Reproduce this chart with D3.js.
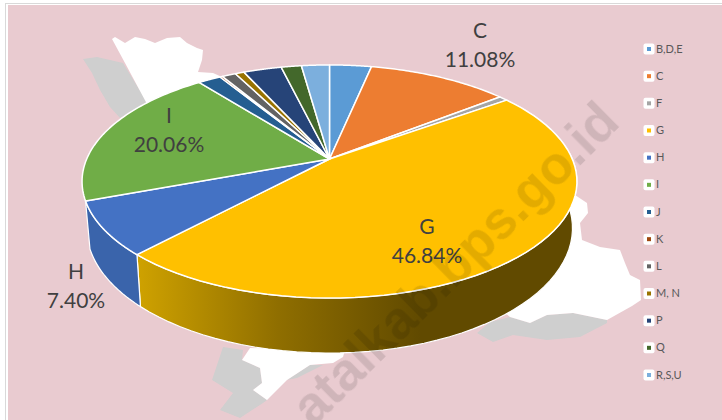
<!DOCTYPE html>
<html><head><meta charset="utf-8">
<style>html,body{margin:0;padding:0;background:#fff}svg{display:block}</style>
<script src="https://cdn.jsdelivr.net/npm/d3@7/dist/d3.min.js"></script>
</head><body><svg id="c" width="722" height="420"></svg>
<script>
const categories=["B,D,E","C","F","G","H","I","J","K","L","M, N","P","Q","R,S,U"];
const shares=[3.3,11.08,0.7,46.84,7.40,20.06,1.82,0.2,1.1,0.7,3.0,1.6,2.2];
const colors=["#5b9bd5","#ed7d31","#a5a5a5","#ffc000","#4472c4","#70ad47","#255e91","#9e480e","#636363","#997300","#264478","#43682b","#7cafdd"];
const labelled=["C","G","H","I"];

const landWhite=[
"M112,39L115,37L125,43L135,37L145,39L155,43L167,38L180,37L187,43L197,48L203,50L202,60L198,72L213,73L222,77L225,100L147,104L125,63Z",
"M570,190L575,195L587,203L588,213L580,223L582,240L600,247L620,250L625,263L630,275L640,280L641,300L632,306L607,320L573,313L547,315L530,323L510,317L490,300Z",
"M242,360L250,348L345,350L343,357L333,363L310,365L287,380L270,397L267,400L253,390L262,383L260,368Z"];
const landGray=[
"M83,59L97,57L110,60L123,63L147,102L120,118L110,107L100,90L92,73Z",
"M477,333L493,342L513,335L547,340L580,337L607,323L607,320L573,313L547,315L530,323L510,317L490,322Z",
"M223,347L243,350L242,360L260,368L262,383L253,390L267,400L263,403L240,418L220,410L233,393L212,380Z",
"M287,380L310,365L323,365L297,378Z"];

const svg=d3.select("#c");
const defs=svg.append("defs");
const g1=defs.append("linearGradient").attr("id","wallG").attr("gradientUnits","userSpaceOnUse").attr("x1",137).attr("x2",420).attr("y1",0).attr("y2",0);
g1.append("stop").attr("offset",0).attr("stop-color","#cfa200");
g1.append("stop").attr("offset",0.5).attr("stop-color","#8f6e00");
g1.append("stop").attr("offset",1).attr("stop-color","#614a00");
defs.append("filter").attr("id","soft").append("feGaussianBlur").attr("stdDeviation",0.7);

svg.append("rect").attr("width",722).attr("height",420).attr("fill","#fff");
svg.append("rect").attr("x",5.5).attr("y",3.5).attr("width",720).attr("height",420).attr("fill","#fff").attr("stroke","#d9d9d9");
svg.append("rect").attr("x",8).attr("y",5).attr("width",714).attr("height",415).attr("fill","#e9cbd0");
const land=svg.append("g").attr("filter","url(#soft)");
land.append("g").selectAll("path").data(landGray).join("path").attr("d",d=>d).attr("fill","#cfcfcf");
land.append("g").selectAll("path").data(landWhite).join("path").attr("d",d=>d).attr("fill","#fff");

// perspective disc: a circle seen through a homography
const k=0.193;
const topDisc={cx:329.5,cy:159,rx:242.8,ry:112.2};
const botDisc={cx:329.5,cy:204,rx:238.4,ry:120.3};
const proj=(disc,a)=>{const x=Math.sin(a),y=-Math.cos(a),w=1-k*y;return [disc.cx+disc.rx*x/w,disc.cy+disc.ry*y/w];};
const arcPts=(disc,a0,a1)=>d3.range(0,61).map(i=>proj(disc,a0+(a1-a0)*i/60));

const arcs=d3.pie().sort(null).value(d=>d)(shares).map((a,i)=>({...a,name:categories[i],color:colors[i]}));
const line=d3.line();

const wallFill={G:"url(#wallG)",H:"#3a64ab"};
svg.append("g").selectAll("path").data(arcs.filter(a=>wallFill[a.name])).join("path")
 .attr("d",a=>line(arcPts(topDisc,a.startAngle,a.endAngle).concat(arcPts(botDisc,a.startAngle,a.endAngle).reverse()))+"Z")
 .attr("fill",a=>wallFill[a.name]).attr("stroke","#fff").attr("stroke-width",1.2).attr("stroke-linejoin","round");

svg.append("g").selectAll("path").data(arcs).join("path")
 .attr("d",a=>line([[topDisc.cx,topDisc.cy]].concat(arcPts(topDisc,a.startAngle,a.endAngle)))+"Z")
 .attr("fill",a=>a.color).attr("stroke","#fff").attr("stroke-width",1.5).attr("stroke-linejoin","round");

// data labels
const labelPos={C:[480,41],G:[427,237],H:[76,282],I:[169,126]};
const font="Lato, 'Open Sans', sans-serif";
const lab=svg.append("g").attr("font-family",font).attr("font-size",21).attr("fill","#404040").attr("text-anchor","middle");
arcs.filter(a=>labelled.includes(a.name)).forEach(a=>{
  const p=labelPos[a.name];
  lab.append("text").attr("x",p[0]).attr("y",p[1]-3).text(a.name);
  lab.append("text").attr("x",p[0]).attr("y",p[1]+26).text(d3.format(".2f")(a.value)+"%");
});

// legend
const ly=d3.scalePoint().domain(categories).range([49,375]);
const leg=svg.append("g").selectAll("g").data(arcs).join("g").attr("transform",a=>`translate(649,${ly(a.name)})`);
leg.append("rect").attr("x",-5.5).attr("y",-5.5).attr("width",11).attr("height",11).attr("rx",2).attr("fill","#fff");
leg.append("rect").attr("x",-2).attr("y",-2).attr("width",4).attr("height",4).attr("fill",a=>a.color);
leg.append("text").attr("x",7).attr("y",3.5).attr("font-family",font).attr("font-size",11).attr("fill","#595959").text(a=>a.name);

// watermark
svg.append("text").attr("transform","translate(313,428) rotate(-44.5)").attr("font-family","'Liberation Sans',Arial,sans-serif").attr("font-weight","bold").attr("font-size",53).attr("fill","#000").attr("fill-opacity",0.11).attr("filter","url(#soft)").text("atalkab.bps.go.id");
</script></body></html>
